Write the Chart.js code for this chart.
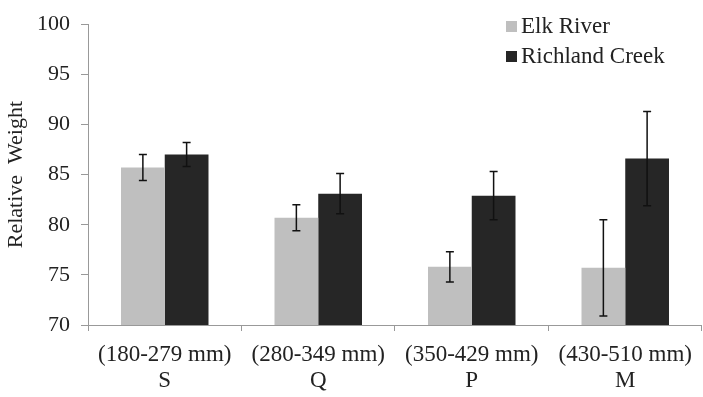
<!DOCTYPE html>
<html>
<head>
<meta charset="utf-8">
<script src="https://cdn.jsdelivr.net/npm/chart.js@4/dist/chart.umd.min.js"></script>
<style>
  html, body { margin: 0; padding: 0; background: #fff; }
  #wrap { position: relative; width: 703px; height: 397px; }
</style>
</head>
<body>
<div id="wrap"><canvas id="chart"></canvas></div>
<script>
// size classes (two-line tick labels)
const categories = [
    ['(180-279 mm)', 'S'],
    ['(280-349 mm)', 'Q'],
    ['(350-429 mm)', 'P'],
    ['(430-510 mm)', 'M']
];
const elkRiver = [85.7, 80.7, 75.8, 75.7];
const richlandCreek = [87.0, 83.1, 82.9, 86.6];
// error bar half-lengths
const elkRiverErr = [1.3, 1.3, 1.5, 4.8];
const richlandCreekErr = [1.2, 2.0, 2.4, 4.7];

const FONT = "'Liberation Serif', 'Times New Roman', serif";
const TEXT = '#222222';

// draws the +/- error bars on top of each bar
const errorBars = {
    id: 'errorBars',
    afterDatasetsDraw(chart) {
        const ctx = chart.ctx;
        const yScale = chart.scales.y;
        chart.data.datasets.forEach((ds, i) => {
            const meta = chart.getDatasetMeta(i);
            meta.data.forEach((bar, j) => {
                const v = ds.data[j];
                const e = ds.errors[j];
                const top = yScale.getPixelForValue(v + e);
                const bot = yScale.getPixelForValue(v - e);
                ctx.save();
                ctx.strokeStyle = '#111';
                ctx.lineWidth = 1.5;
                ctx.beginPath();
                ctx.moveTo(bar.x, top);
                ctx.lineTo(bar.x, bot);
                ctx.moveTo(bar.x - 4, top);
                ctx.lineTo(bar.x + 4, top);
                ctx.moveTo(bar.x - 4, bot);
                ctx.lineTo(bar.x + 4, bot);
                ctx.stroke();
                ctx.restore();
            });
        });
    }
};

// simple legend in the top right corner
const cornerLegend = {
    id: 'cornerLegend',
    afterDraw(chart) {
        const ctx = chart.ctx;
        ctx.save();
        ctx.font = '23px ' + FONT;
        ctx.textBaseline = 'middle';
        chart.data.datasets.forEach((ds, i) => {
            const y = 26 + i * 30;
            ctx.fillStyle = ds.backgroundColor;
            ctx.fillRect(506, y - 5, 11, 11);
            ctx.fillStyle = TEXT;
            ctx.fillText(ds.label, 521, y + 1);
        });
        ctx.restore();
    }
};

new Chart(document.getElementById('chart'), {
    type: 'bar',
    data: {
        labels: categories,
        datasets: [
            {
                label: 'Elk River',
                data: elkRiver,
                errors: elkRiverErr,
                backgroundColor: '#bfbfbf'
            },
            {
                label: 'Richland Creek',
                data: richlandCreek,
                errors: richlandCreekErr,
                backgroundColor: '#262626'
            }
        ]
    },
    options: {
        responsive: true,
        maintainAspectRatio: false,
        animation: false,
        categoryPercentage: 0.57,
        barPercentage: 1,
        layout: { padding: { top: 15, right: 0, left: 0, bottom: 0 } },
        plugins: {
            legend: { display: false },
            tooltip: { enabled: false }
        },
        scales: {
            x: {
                offset: true,
                afterFit(scale) { scale.height = 72; },
                grid: {
                    offset: true,
                    drawOnChartArea: false,
                    drawTicks: true,
                    tickLength: 6,
                    color: '#999'
                },
                border: { color: '#999', width: 1 },
                ticks: {
                    color: TEXT,
                    font: { family: FONT, size: 23, lineHeight: 1.13 },
                    padding: 11,
                    maxRotation: 0,
                    autoSkip: false
                }
            },
            y: {
                min: 70,
                max: 100,
                afterFit(scale) { scale.width = 88; },
                grid: {
                    drawOnChartArea: false,
                    drawTicks: true,
                    tickLength: 7,
                    color: '#999'
                },
                border: { color: '#999', width: 1 },
                ticks: {
                    stepSize: 5,
                    color: TEXT,
                    font: { family: FONT, size: 22 },
                    padding: 11
                },
                title: {
                    display: true,
                    text: 'Relative  Weight',
                    color: TEXT,
                    font: { family: FONT, size: 22 },
                    padding: { top: 3, bottom: 4 }
                }
            }
        }
    },
    plugins: [errorBars, cornerLegend]
});
</script>
</body>
</html>
